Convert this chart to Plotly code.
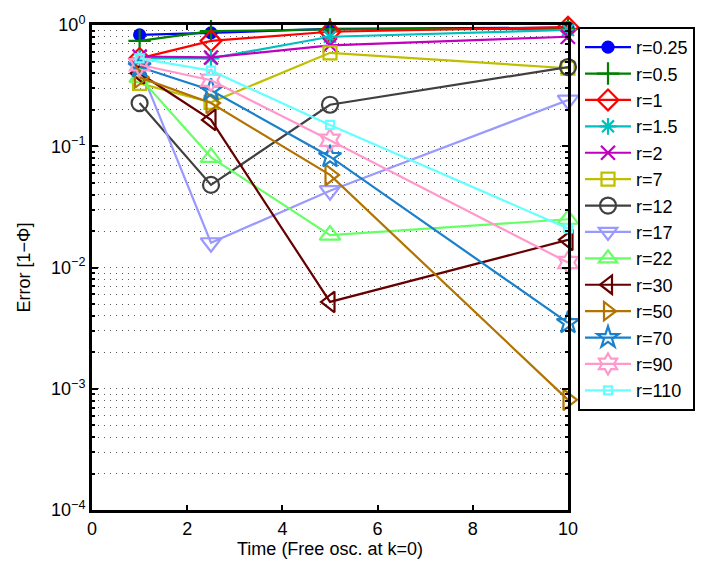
import plotly.graph_objects as go

times = [1, 2.5, 5, 10]
labels = ["r=0.25", "r=0.5", "r=1", "r=1.5", "r=2", "r=7", "r=12", "r=17",
          "r=22", "r=30", "r=50", "r=70", "r=90", "r=110"]
err_r0_25 = [0.83, 0.86, 0.93, 0.95]
err_r0_5 = [0.74, 0.89, 0.92, 0.93]
err_r1 = [0.53, 0.74, 0.88, 0.96]
err_r1_5 = [0.53, 0.53, 0.80, 0.91]
err_r2 = [0.55, 0.54, 0.68, 0.80]
err_r7 = [0.33, 0.23, 0.59, 0.44]
err_r12 = [0.227, 0.048, 0.22, 0.45]
err_r17 = [0.45, 0.016, 0.043, 0.24]
err_r22 = [0.37, 0.081, 0.0185, 0.025]
err_r30 = [0.40, 0.165, 0.0052, 0.0169]
err_r50 = [0.37, 0.227, 0.058, 0.00081]
err_r70 = [0.45, 0.29, 0.082, 0.0035]
err_r90 = [0.47, 0.35, 0.112, 0.011]
err_r110 = [0.53, 0.42, 0.15, 0.021]

series = [err_r0_25, err_r0_5, err_r1, err_r1_5, err_r2, err_r7, err_r12,
          err_r17, err_r22, err_r30, err_r50, err_r70, err_r90, err_r110]
colors = ["rgb(0,0,255)", "rgb(0,128,0)", "rgb(255,0,0)", "rgb(0,191,191)",
          "rgb(191,0,191)", "rgb(191,191,0)", "rgb(64,64,64)", "rgb(153,153,255)",
          "rgb(102,255,102)", "rgb(102,0,0)", "rgb(178,115,0)", "rgb(25,128,204)",
          "rgb(255,153,204)", "rgb(102,255,255)"]
symbols = ["circle", "cross-thin-open", "diamond-open", "asterisk-open",
           "x-thin-open", "square-open", "circle-open", "triangle-down-open",
           "triangle-up-open", "triangle-left-open", "triangle-right-open",
           "star-open", "hexagram-open", "square-open"]
sizes = [11, 16, 16, 14, 14, 13, 16, 18, 18, 18, 18, 17, 17, 8]

fig = go.Figure()
for lab, vals, col, sym, sz in zip(labels, series, colors, symbols, sizes):
    fig.add_trace(go.Scatter(
        x=times, y=vals, name=lab, mode="lines+markers", cliponaxis=False,
        line=dict(color=col, width=2.2),
        marker=dict(symbol=sym, size=sz, color=col, line=dict(color=col, width=2.2)),
    ))

decades = [1e-4, 1e-3, 1e-2, 1e-1, 1]
minor_vals = [m * d for d in decades[:-1] for m in range(1, 10)]

fig.update_layout(
    width=707, height=571,
    margin=dict(l=92, r=139, t=25, b=61),
    paper_bgcolor="white", plot_bgcolor="white",
    font=dict(family="Liberation Sans, Arial, sans-serif", size=18, color="black"),
    showlegend=True,
    legend=dict(x=1.021, xanchor="left", y=0.996, yanchor="top",
                bordercolor="black", borderwidth=2, bgcolor="white",
                font=dict(size=18), itemwidth=46, tracegroupgap=0),
    xaxis=dict(range=[0, 10], tickvals=[0, 2, 4, 6, 8, 10], ticks="inside",
               ticklen=5, tickwidth=2, tickcolor="black", showgrid=False,
               showline=True, linewidth=3, linecolor="black", mirror="ticks",
               zeroline=False,
               title=dict(text="Time (Free osc. at k=0)", standoff=2,
                          font=dict(size=18))),
    yaxis=dict(type="log", range=[-4, 0],
               tickvals=decades,
               ticktext=["10<sup>−4</sup>", "10<sup>−3</sup>", "10<sup>−2</sup>",
                         "10<sup>−1</sup>", "10<sup>0</sup>"],
               ticks="inside", ticklen=6, tickwidth=2, tickcolor="black",
               showgrid=True, gridcolor="rgb(90,90,90)", griddash="1px,5px", gridwidth=1,
               showline=True, linewidth=3, linecolor="black", mirror="ticks",
               zeroline=False,
               minor=dict(tickvals=minor_vals, ticks="inside", ticklen=3,
                          tickcolor="black", showgrid=True,
                          gridcolor="rgb(90,90,90)", griddash="1px,5px", gridwidth=1),
               title=dict(text="Error [1−Φ]", standoff=16, font=dict(size=18))),
)

fig.write_html("out.html")
